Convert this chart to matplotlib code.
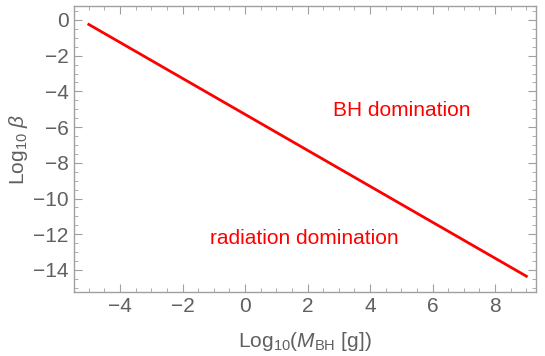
import matplotlib
matplotlib.use("Agg")
import matplotlib.pyplot as plt
import numpy as np
from matplotlib.ticker import MultipleLocator

plt.rcParams['font.family'] = ['Liberation Sans', 'DejaVu Sans']
plt.rcParams['mathtext.fontset'] = 'custom'
plt.rcParams['mathtext.rm'] = 'Liberation Sans'
plt.rcParams['mathtext.it'] = 'Liberation Sans:italic'

log_m = [-5, 9]
log_beta = [-0.25, -14.35]
xticks = [-4, -2, 0, 2, 4, 6, 8]
yticks = [0, -2, -4, -6, -8, -10, -12, -14]

fig = plt.figure(figsize=(5.45, 3.56), dpi=100)
ax = fig.add_axes([0.136, 0.18, 0.847, 0.803])
ax.plot(log_m, log_beta, color='#ff0000', lw=2)
ax.set_xlim(-5.47, 9.3)
ax.set_ylim(-15.23, 0.78)
ax.set_xticks(xticks)
ax.set_yticks(yticks)
ax.set_xticklabels([f"\u2212{-t}" if t < 0 else str(t) for t in xticks])
ax.set_yticklabels([f"\u2212{-t}" if t < 0 else str(t) for t in yticks])
ax.xaxis.set_minor_locator(MultipleLocator(0.5))
ax.yaxis.set_minor_locator(MultipleLocator(0.5))
gray = '#a0a0a0'
for s in ax.spines.values():
    s.set_color(gray)
    s.set_linewidth(1)
fs = 15
ax.tick_params(which='both', direction='in', color=gray, labelcolor='#606060', labelsize=fs,
               top=True, right=True, labeltop=False, labelright=False)
ax.tick_params(which='major', length=6, pad=4)
ax.tick_params(which='minor', length=3)
ax.set_xlabel(r"Log$_{10}$($M_{\mathrm{BH}}$ [g])", color='#606060', fontsize=fs, labelpad=10)
ax.set_ylabel(r"Log$_{10}$ $\beta$", color='#606060', fontsize=fs, labelpad=2)
ax.text(5.0, -5.05, "BH domination", color='#ff0000', fontsize=fs, ha='center', va='center')
ax.text(1.9, -12.25, "radiation domination", color='#ff0000', fontsize=fs, ha='center', va='center')
fig.savefig("out.png", dpi=100)
